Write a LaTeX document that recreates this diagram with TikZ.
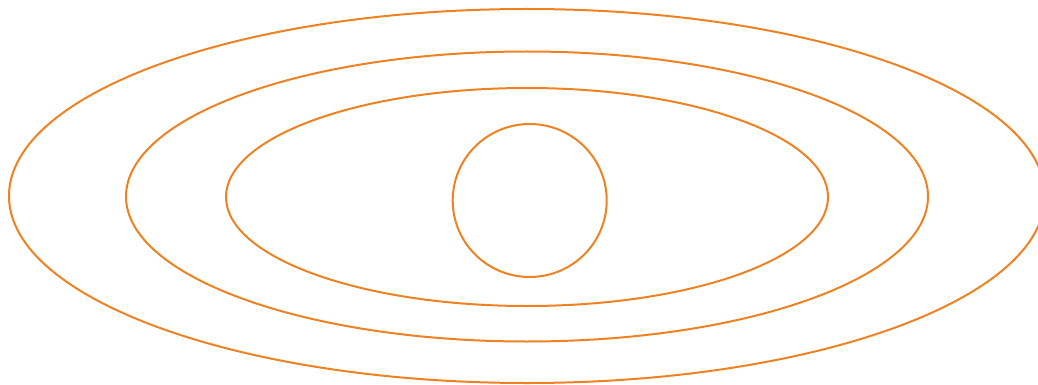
\documentclass[tikz,border=0pt]{standalone}
\definecolor{ringorange}{RGB}{238,130,34}
\begin{document}
\begin{tikzpicture}[x=1pt,y=-1pt,ring/.style={draw=ringorange,line width=2pt}]
\useasboundingbox (0,0) rectangle (1038,385);
\clip (0,0) rectangle (1038,385);
\draw[ring] (527,196) ellipse [x radius=518, y radius=187];
\draw[ring] (527,196.5) ellipse [x radius=401, y radius=145];
\draw[ring] (527,197) ellipse [x radius=301, y radius=109];
\draw[ring] (529.7,200.5) ellipse [x radius=77, y radius=76.5];
\end{tikzpicture}
\end{document}
